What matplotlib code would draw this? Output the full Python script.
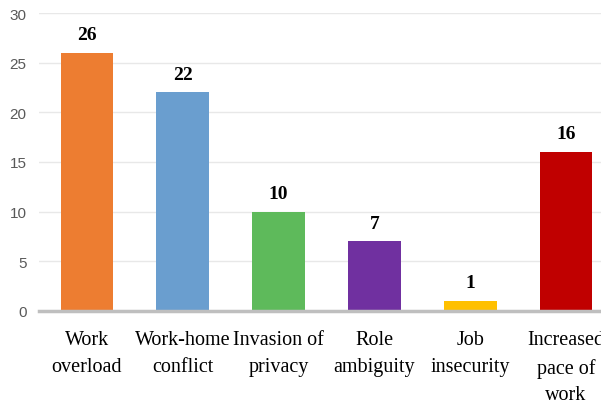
import matplotlib
matplotlib.use("Agg")
import matplotlib.pyplot as plt

categories = ["Work\noverload", "Work-home\nconflict", "Invasion of\nprivacy",
              "Role\nambiguity", "Job\ninsecurity", "Increased\npace of\nwork"]
values = [26, 22, 10, 7, 1, 16]
colors = ["#ED7D31", "#6A9ECF", "#5EBA5B", "#7030A0", "#FFC000", "#C00000"]
yticks = [0, 5, 10, 15, 20, 25, 30]

fig = plt.figure(figsize=(6.01, 4.02), dpi=100)
ax = fig.add_axes([39 / 601, 90 / 402, 1 - 39 / 601, 298 / 402])

x = list(range(len(categories)))
bars = ax.bar(x, values, width=0.55, color=colors, zorder=2)

for xi, v in zip(x, values):
    ax.annotate(str(v), (xi, v), xytext=(0, 7), textcoords="offset points",
                ha="center", va="bottom", fontsize=14, fontweight="bold",
                family="Liberation Serif")

ax.set_xlim(-0.5, 5.365)
ax.set_ylim(0, 30)
ax.set_yticks(yticks)
ax.set_xticks(x)
ax.set_xticklabels(categories, family="Liberation Serif", fontsize=14.5,
                   linespacing=1.55)
ax.tick_params(axis="x", length=0, pad=14)
ax.tick_params(axis="y", length=0, pad=9, labelsize=11, labelcolor="#595959")
for lbl in ax.get_yticklabels():
    lbl.set_family("Liberation Sans")

ax.grid(axis="y", color="#E8E8E8", linewidth=1, zorder=0)
for s in ["top", "right", "left"]:
    ax.spines[s].set_visible(False)
ax.spines["bottom"].set_color("#BFBFBF")
ax.spines["bottom"].set_linewidth(2.5)
ax.spines["bottom"].set_zorder(3)

fig.savefig("out.png", dpi=100)
